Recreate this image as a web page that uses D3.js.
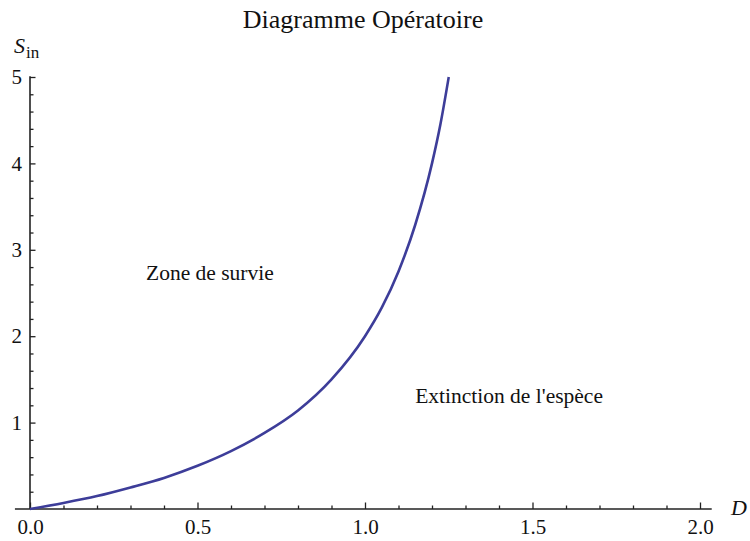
<!DOCTYPE html>
<html>
<head>
<meta charset="utf-8">
<script src="https://cdn.jsdelivr.net/npm/d3@7"></script>
<style>
  body { margin: 0; background: #fff; }
  svg text { font-family: "Liberation Serif", "Times New Roman", serif; fill: #111; }
</style>
</head>
<body>
<svg id="chart" width="750" height="541"></svg>
<script>
// values
var dValues   = [0, 0.1, 0.2, 0.3, 0.4, 0.5, 0.6, 0.7, 0.8, 0.9, 1.0, 1.05, 1.1, 1.15, 1.2, 1.225, 1.25];
var sinValues = [0, 0.07, 0.15, 0.25, 0.36, 0.5, 0.67, 0.88, 1.14, 1.5, 2.0, 2.33, 2.75, 3.29, 4.0, 4.45, 5.0];

var xTicks = [0, 0.5, 1.0, 1.5, 2.0];
var xTickLabels = ["0.0", "0.5", "1.0", "1.5", "2.0"];
var yTicks = [1, 2, 3, 4, 5];
var yTickLabels = ["1", "2", "3", "4", "5"];

var title = "Diagramme Opératoire";
var zoneLabels = ["Zone de survie", "Extinction de l'espèce"];

var svg = d3.select("#chart");

var x = d3.scaleLinear().domain([0, 2]).range([30, 700]);
var y = d3.scaleLinear().domain([0, 5]).range([509, 77]);

var axisColor = "#222";

// minor ticks
var xMinor = d3.range(0, 2.01, 0.1).filter(function(d) { return xTicks.indexOf(+d.toFixed(1)) < 0; });
var yMinor = d3.range(0.2, 5, 0.2).filter(function(d) { return Math.abs(d - Math.round(d)) > 0.01; });

var gx = svg.append("g").attr("transform", "translate(0," + y(0) + ")");
gx.call(d3.axisBottom(x).tickValues(xMinor).tickFormat("").tickSizeInner(-3.5).tickSizeOuter(0));
gx.call(function(g) { g.select(".domain").remove(); });
var gx2 = svg.append("g").attr("transform", "translate(0," + y(0) + ")");
gx2.call(d3.axisBottom(x).tickValues(xTicks)
    .tickFormat(function(d, i) { return xTickLabels[i]; })
    .tickSizeInner(-6.5).tickSizeOuter(0).tickPadding(10));
gx2.select(".domain").remove();

var gy = svg.append("g").attr("transform", "translate(" + x(0) + ",0)");
gy.call(d3.axisLeft(y).tickValues(yMinor).tickFormat("").tickSizeInner(-3.5).tickSizeOuter(0));
gy.select(".domain").remove();
var gy2 = svg.append("g").attr("transform", "translate(" + x(0) + ",0)");
gy2.call(d3.axisLeft(y).tickValues(yTicks)
    .tickFormat(function(d, i) { return yTickLabels[i]; })
    .tickSizeInner(-5.5).tickSizeOuter(0).tickPadding(8));
gy2.select(".domain").remove();

svg.selectAll(".tick line").attr("stroke", axisColor).attr("stroke-width", 1.3);
svg.selectAll(".tick text").attr("font-size", 21).attr("fill", "#111")
    .style("font-family", "'Liberation Serif', 'Times New Roman', serif");

// axis lines
svg.append("line")
    .attr("x1", x(-0.045)).attr("x2", x(2.035))
    .attr("y1", y(0)).attr("y2", y(0))
    .attr("stroke", axisColor).attr("stroke-width", 1.6);
svg.append("line")
    .attr("x1", x(0)).attr("x2", x(0))
    .attr("y1", y(0)).attr("y2", y(5.01))
    .attr("stroke", axisColor).attr("stroke-width", 1.6);

// curve
var pts = dValues.map(function(d, i) { return [d, sinValues[i]]; });
var line = d3.line()
    .x(function(d) { return x(d[0]); })
    .y(function(d) { return y(d[1]); })
    .curve(d3.curveMonotoneX);

svg.append("path")
    .datum(pts)
    .attr("d", line)
    .attr("fill", "none")
    .attr("stroke", "#3d3d99")
    .attr("stroke-width", 2.6)
    .attr("stroke-linejoin", "round");

// title
svg.append("text")
    .attr("x", 363).attr("y", 28)
    .attr("text-anchor", "middle")
    .attr("font-size", 26)
    .text(title);

// axis labels
var sl = svg.append("text").attr("x", 14).attr("y", 53).attr("font-size", 22);
sl.append("tspan").attr("font-style", "italic").text("S");
sl.append("tspan").attr("font-size", 17).attr("dy", 5).attr("dx", 1).text("in");

svg.append("text")
    .attr("x", 731).attr("y", 515)
    .attr("font-size", 22)
    .attr("font-style", "italic")
    .text("D");

// zone annotations
svg.append("text")
    .attr("x", x(0.537)).attr("y", y(2.65))
    .attr("text-anchor", "middle")
    .attr("font-size", 21.5)
    .text(zoneLabels[0]);

svg.append("text")
    .attr("x", x(1.43)).attr("y", y(1.23))
    .attr("text-anchor", "middle")
    .attr("font-size", 21.5)
    .text(zoneLabels[1]);
</script>
</body>
</html>
